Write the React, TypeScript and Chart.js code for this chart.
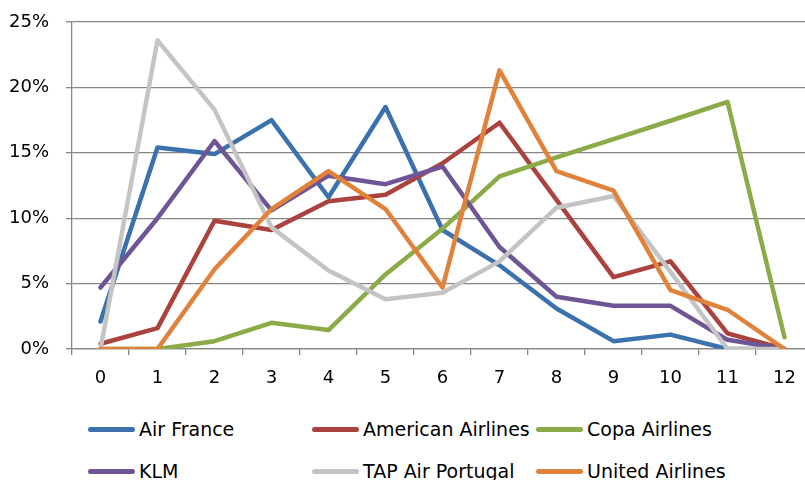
import React, { useEffect, useRef } from "react";
import { Chart, registerables } from "chart.js";

Chart.register(...registerables);

const categories = ["0", "1", "2", "3", "4", "5", "6", "7", "8", "9", "10", "11", "12"];
const yTicks = [0, 5, 10, 15, 20, 25];

const airFrance = [2.1, 15.4, 14.9, 17.5, 11.6, 18.5, 9.1, 6.4, 3.1, 0.6, 1.1, 0, 0];
const americanAirlines = [0.4, 1.6, 9.8, 9.1, 11.3, 11.8, 14.2, 17.3, 11.4, 5.5, 6.7, 1.2, 0];
const copaAirlines = [0, 0, 0.6, 2.0, 1.45, 5.7, 9.2, 13.2, 14.65, 16.05, 17.45, 18.9, 0.9];
const klm = [4.7, 10.0, 15.9, 10.6, 13.25, 12.6, 13.95, 7.8, 4.0, 3.3, 3.3, 0.7, 0];
const tapAirPortugal = [0, 23.6, 18.3, 9.3, 6.0, 3.8, 4.3, 6.7, 10.8, 11.7, 5.9, 0, 0];
const unitedAirlines = [0, 0, 6.1, 10.7, 13.6, 10.7, 4.7, 21.3, 13.6, 12.1, 4.5, 3.0, 0];

const seriesNames = ["Air France", "American Airlines", "Copa Airlines", "KLM", "TAP Air Portugal", "United Airlines"];
const seriesValues = [airFrance, americanAirlines, copaAirlines, klm, tapAirPortugal, unitedAirlines];
const seriesColors = ["#3B71AC", "#AA423E", "#8BAA48", "#6F5596", "#C4C4C4", "#E1823A"];

const FONT = "'DejaVu Sans', sans-serif";

export default function App() {
  const canvasRef = useRef<HTMLCanvasElement | null>(null);

  useEffect(() => {
    if (!canvasRef.current) return;
    const chart = new Chart(canvasRef.current, {
      type: "line",
      data: {
        labels: categories,
        datasets: seriesNames.map((name, i) => ({
          label: name,
          data: seriesValues[i],
          borderColor: seriesColors[i],
          backgroundColor: seriesColors[i],
          borderWidth: 4.5,
          pointRadius: 0,
          pointHoverRadius: 0,
          tension: 0,
          fill: false,
          borderJoinStyle: "round" as const,
          borderCapStyle: "round" as const,
          order: seriesNames.length - 1 - i,
        })),
      },
      options: {
        animation: false,
        responsive: true,
        maintainAspectRatio: false,
        layout: { padding: { left: 0, top: 22, right: 17, bottom: 0 } },
        plugins: {
          legend: { display: false },
          tooltip: { enabled: false },
          title: { display: false },
        },
        scales: {
          x: {
            type: "category",
            offset: true,
            grid: {
              display: true,
              offset: true,
              drawOnChartArea: false,
              drawTicks: true,
              tickLength: 6,
              color: "#868686",
              lineWidth: 1.3,
            },
            border: { display: true, color: "#868686", width: 1.3 },
            ticks: {
              color: "#000000",
              font: { family: FONT, size: 18 },
              padding: 13,
              maxRotation: 0,
              autoSkip: false,
            },
            afterFit: (scale: any) => {
              scale.height = 51;
              scale.paddingLeft = 0;
              scale.paddingRight = 0;
            },
          },
          y: {
            type: "linear",
            min: 0,
            max: 25,
            afterBuildTicks: (scale: any) => {
              scale.ticks = yTicks.map((v) => ({ value: v }));
            },
            grid: {
              display: true,
              drawTicks: true,
              tickLength: 6,
              color: "#868686",
              lineWidth: 1.3,
            },
            border: { display: true, color: "#868686", width: 1.3 },
            ticks: {
              color: "#000000",
              font: { family: FONT, size: 18 },
              padding: 17,
              callback: (v: any) => v + "%",
            },
            afterFit: (scale: any) => {
              scale.width = 72;
              scale.paddingTop = 0;
              scale.paddingBottom = 0;
            },
          },
        },
      },
    });
    return () => chart.destroy();
  }, []);

  const colLeft = [88, 312, 536];
  const rowCenter = [429, 471];

  return (
    <div
      style={{
        position: "fixed",
        left: 0,
        top: 0,
        width: 805,
        height: 480,
        overflow: "hidden",
        background: "#ffffff",
      }}
    >
      <div style={{ position: "absolute", left: 0, top: 0, width: 830, height: 400 }}>
        <canvas ref={canvasRef} />
      </div>
      {seriesNames.map((name, i) => (
        <div
          key={name}
          style={{
            position: "absolute",
            left: colLeft[i % 3],
            top: rowCenter[Math.floor(i / 3)],
            transform: "translateY(-50%)",
            display: "flex",
            alignItems: "center",
            whiteSpace: "nowrap",
            fontFamily: FONT,
            fontSize: 19,
            color: "#000000",
          }}
        >
          <span
            style={{
              display: "inline-block",
              width: 47,
              height: 5,
              borderRadius: 3,
              background: seriesColors[i],
              marginRight: 4,
            }}
          />
          <span>{name}</span>
        </div>
      ))}
    </div>
  );
}
